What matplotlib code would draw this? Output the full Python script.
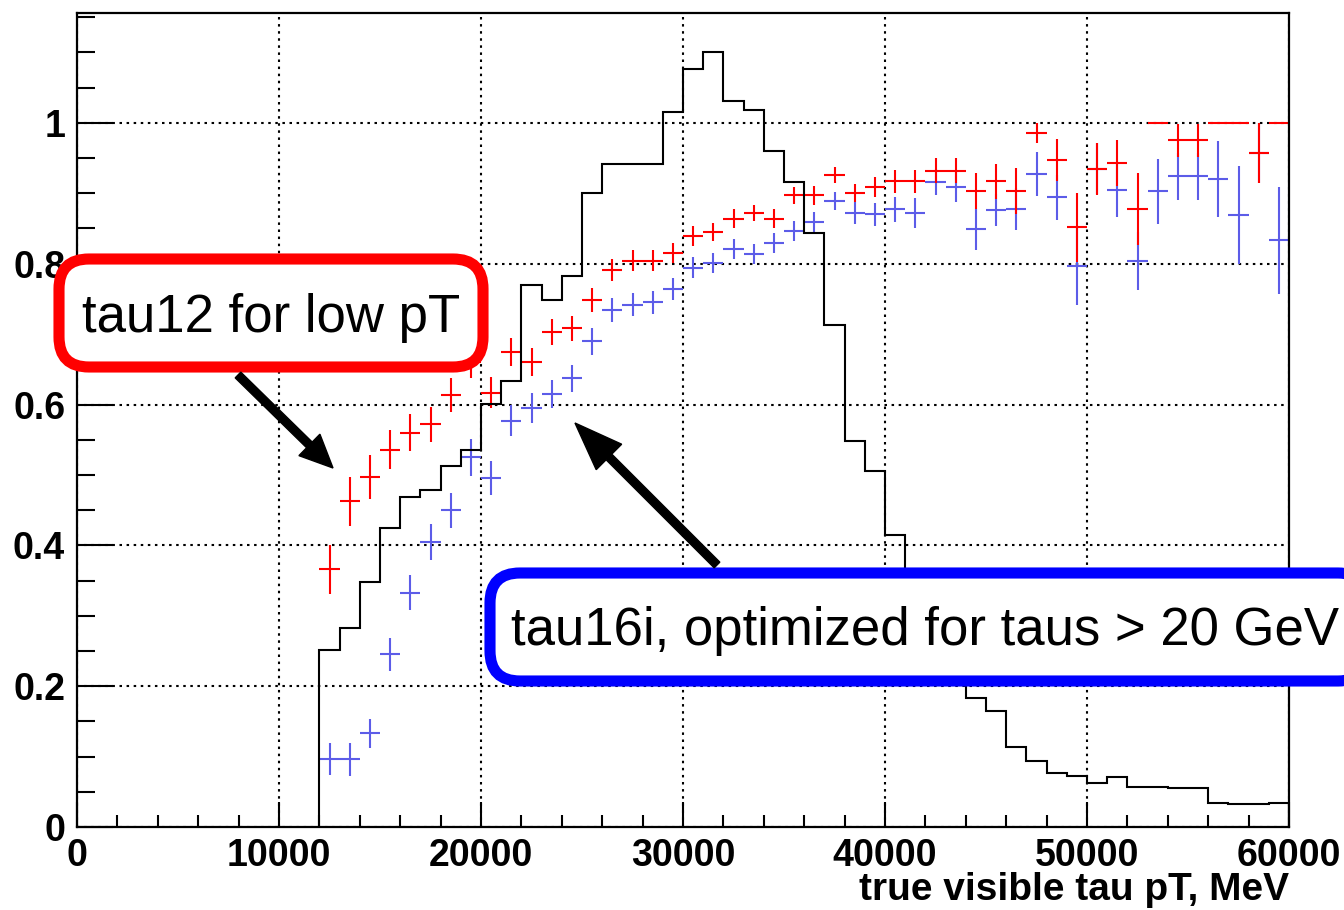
import numpy as np
import matplotlib
matplotlib.use("Agg")
import matplotlib.pyplot as plt
from matplotlib.patches import FancyBboxPatch, FancyArrow
from matplotlib.transforms import Affine2D
from matplotlib.ticker import MultipleLocator, FormatStrFormatter

# ---------------- data ----------------
hist_edges = np.arange(12000, 60001, 1000)
hist_values = [0.251, 0.283, 0.348, 0.425, 0.468, 0.478, 0.513, 0.536,
               0.601, 0.633, 0.770, 0.748, 0.782, 0.901, 0.942, 0.942,
               0.942, 1.016, 1.077, 1.101, 1.031, 1.018, 0.960, 0.916,
               0.843, 0.713, 0.548, 0.506, 0.415, 0.330, 0.260, 0.220,
               0.183, 0.165, 0.113, 0.094, 0.076, 0.073, 0.063, 0.071,
               0.057, 0.057, 0.055, 0.055, 0.034, 0.032, 0.032, 0.034]

bin_centers = np.arange(12500, 60000, 1000)
bin_halfwidth = 500

tau12_eff = [0.366, 0.4625, 0.497, 0.536, 0.560, 0.572, 0.613, 0.660,
             0.617, 0.674, 0.660, 0.703, 0.708, 0.749, 0.791, 0.804,
             0.804, 0.815, 0.839, 0.845, 0.864, 0.872, 0.864, 0.897,
             0.897, 0.926, 0.900, 0.909, 0.917, 0.917, 0.932, 0.932,
             0.903, 0.917, 0.903, 0.986, 0.947, 0.852, 0.935, 0.943,
             0.878, 1.000, 0.975, 0.975, 1.000, 1.000, 0.957, 1.000]
tau12_err = [0.035, 0.035, 0.031, 0.028, 0.026, 0.025, 0.024, 0.022,
             0.022, 0.020, 0.020, 0.019, 0.018, 0.017, 0.016, 0.015,
             0.015, 0.014, 0.014, 0.013, 0.013, 0.012, 0.013, 0.012,
             0.013, 0.011, 0.013, 0.014, 0.016, 0.016, 0.018, 0.018,
             0.026, 0.025, 0.033, 0.014, 0.030, 0.049, 0.037, 0.032,
             0.051, 0.000, 0.024, 0.024, 0.000, 0.000, 0.043, 0.000]

tau16i_eff = [0.097, 0.096, 0.133, 0.245, 0.333, 0.405, 0.450, 0.525,
              0.496, 0.577, 0.595, 0.615, 0.637, 0.690, 0.734, 0.742,
              0.745, 0.764, 0.794, 0.801, 0.821, 0.814, 0.829, 0.846,
              0.859, 0.889, 0.872, 0.870, 0.877, 0.872, 0.916, 0.909,
              0.849, 0.876, 0.878, 0.927, 0.894, 0.796, 0.935, 0.904,
              0.804, 0.903, 0.924, 0.924, 0.920, 0.869, 0.957, 0.833]
tau16i_err = [0.023, 0.023, 0.021, 0.024, 0.025, 0.026, 0.025, 0.026,
              0.024, 0.022, 0.021, 0.020, 0.019, 0.019, 0.017, 0.016,
              0.016, 0.015, 0.015, 0.014, 0.014, 0.014, 0.014, 0.014,
              0.014, 0.013, 0.015, 0.016, 0.018, 0.021, 0.018, 0.022,
              0.029, 0.023, 0.030, 0.031, 0.032, 0.055, 0.036, 0.038,
              0.041, 0.046, 0.033, 0.033, 0.054, 0.070, 0.043, 0.076]

x_major = 10000
x_minor = 2000
y_major = 0.2
y_minor = 0.05
xlabel = "true visible tau pT, MeV"
label_red = "tau12 for low pT"
label_blue = "tau16i, optimized for taus > 20 GeV"

# ---------------- figure ----------------
plt.rcParams['font.family'] = ['Liberation Sans', 'DejaVu Sans']
W, H, DPI = 1344, 910, 100
fig = plt.figure(figsize=(W / DPI, H / DPI), dpi=DPI)
fig.patch.set_facecolor('white')

# axes placed to match pixel frame: left 77, right 1289, top 13, bottom 827
ax = fig.add_axes([77 / W, (H - 827) / H, 1212 / W, 814 / H])
ax.set_xlim(0, 60000)
ax.set_ylim(0, 1.156)

grid_ls = (0, (1.2, 2.2))
ax.grid(True, which='major', color='black', linestyle=grid_ls, linewidth=1.5, zorder=0)
ax.set_axisbelow(True)

blue_col = '#5c5ce8'
red_col = '#ff0000'

ax.errorbar(bin_centers, tau16i_eff, xerr=bin_halfwidth, yerr=tau16i_err,
            fmt='none', ecolor=blue_col, elinewidth=1.5, capsize=0, zorder=2)
ax.errorbar(bin_centers, tau12_eff, xerr=bin_halfwidth, yerr=tau12_err,
            fmt='none', ecolor=red_col, elinewidth=1.5, capsize=0, zorder=2.5)
ax.stairs(hist_values, hist_edges, baseline=0, fill=False, color='black',
          linewidth=1.5, zorder=3)

# ticks
ax.xaxis.set_major_locator(MultipleLocator(x_major))
ax.xaxis.set_minor_locator(MultipleLocator(x_minor))
ax.yaxis.set_major_locator(MultipleLocator(y_major))
ax.yaxis.set_minor_locator(MultipleLocator(y_minor))
ax.xaxis.set_major_formatter(FormatStrFormatter('%d'))
ax.yaxis.set_major_formatter(matplotlib.ticker.FuncFormatter(lambda v, p: f"{v:g}"))

ax.tick_params(axis='both', which='both', direction='in', top=False, right=False,
               width=1.5, labelsize=27)
ax.tick_params(axis='x', which='major', length=18, pad=8)
ax.tick_params(axis='x', which='minor', length=9)
ax.tick_params(axis='y', which='major', length=26, pad=8.5)
ax.tick_params(axis='y', which='minor', length=13)
for lab in ax.get_xticklabels() + ax.get_yticklabels():
    lab.set_fontweight('bold')
for sp in ax.spines.values():
    sp.set_linewidth(1.6)

ax.set_xlabel(xlabel, fontsize=28, fontweight='bold', loc='right')
ax.xaxis.set_label_coords(1.0, (827 - 900) / 814)
ax.xaxis.label.set_verticalalignment('baseline')
ax.xaxis.label.set_horizontalalignment('right')

# pixel transform with origin top-left of image
pix = Affine2D().scale(1.0, -1.0).translate(0, H).scale(1.0 / DPI) + fig.dpi_scale_trans

def add_box(x0, y0, x1, y1, color, text, tx, ty):
    box = FancyBboxPatch((x0, y0), x1 - x0, y1 - y0,
                         boxstyle='round,pad=0,rounding_size=30',
                         linewidth=8, edgecolor=color, facecolor='white',
                         transform=pix, zorder=10, clip_on=False)
    fig.add_artist(box)
    fig.text(tx, ty, text, transform=pix, fontsize=38, ha='center', va='center',
             color='black', zorder=11)

# boxes (stroke-center coordinates in image pixels, y down)
add_box(59, 259, 483, 367, red_col, label_red, 271, 318)
add_box(490, 573, 1368, 681, '#0000ff', label_blue, 925, 631)

def add_arrow(xs, ys, xe, ye, hw, hl):
    arr = FancyArrow(xs, ys, xe - xs, ye - ys, width=8, head_width=hw,
                     head_length=hl, length_includes_head=True,
                     color='black', transform=pix, zorder=12)
    fig.add_artist(arr)

add_arrow(238, 375, 333, 468, 30, 33)
add_arrow(717, 565, 575, 423, 36, 48)

fig.savefig('out.png', dpi=DPI)
